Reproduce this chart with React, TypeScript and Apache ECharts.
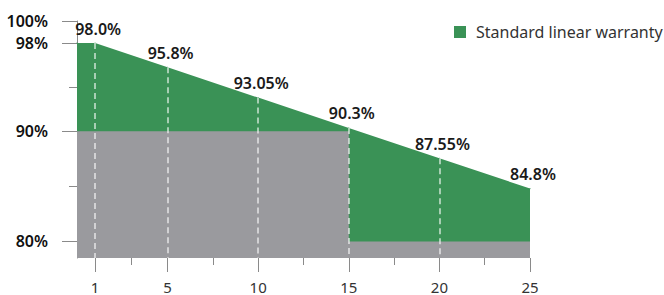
import React, { useEffect, useRef } from 'react';
import * as echarts from 'echarts';

// ---- data ----
const years = [1, 5, 10, 15, 20, 25];
const linearValues = [98, 95.8, 93.05, 90.3, 87.55, 84.8];
const startYear = 0;
const stepYears = [0, 15, 15, 25];
const stepValues = [90, 90, 80, 80];
const yTickValues = [80, 90, 98, 100];
const yMinorTicks = [85, 94];
const xTickValues = [1, 5, 10, 15, 20, 25];
const xMinorTicks = [3, 7.5, 12.5, 17.5, 22.5];
const seriesName = 'Standard linear warranty';

const Y_MIN = 78.5;
const Y_MAX = 100;
const X_MIN = 0;
const X_MAX = 25;

const GREEN = '#3a9256';
const GRAY = '#9a9a9e';
const AXIS = '#8a8a8a';
const FONT = 'Noto Sans';

const fmt = (v: number) => (Number.isInteger(v) ? v.toFixed(1) : String(v)) + '%';

export default function App() {
  const ref = useRef<HTMLDivElement>(null);

  useEffect(() => {
    if (!ref.current) return;
    const chart = echarts.init(ref.current, null, { renderer: 'svg' });

    const linearData: any[] = [
      { value: [startYear, linearValues[0]], label: { show: false } },
      ...years.map((y, i) => ({ value: [y, linearValues[i]] })),
    ];
    const stepData = stepYears.map((y, i) => [y, stepValues[i]]);
    const dashData = years
      .map((y, i) => ({ y, v: linearValues[i] }))
      .filter((d) => d.y < X_MAX)
      .map((d) => [{ coord: [d.y, d.v] }, { coord: [d.y, Y_MIN] }]);

    const baseX = { type: 'value', min: X_MIN, max: X_MAX, splitLine: { show: false } };
    const baseY = { type: 'value', min: Y_MIN, max: Y_MAX, splitLine: { show: false } };

    chart.setOption({
      animation: false,
      grid: { left: 77, right: 134, top: 21, bottom: 37 },
      legend: {
        left: 449,
        top: 19,
        itemWidth: 12,
        itemHeight: 12,
        selectedMode: false,
        data: [{ name: seriesName, icon: 'rect', itemStyle: { color: GREEN } }],
        textStyle: { fontSize: 16, color: '#333', fontFamily: FONT, padding: [0, 0, 0, 5] },
      },
      xAxis: [
        {
          ...baseX,
          position: 'bottom',
          axisLine: { show: false },
          axisTick: { show: true, length: 14, customValues: xTickValues, lineStyle: { color: AXIS } },
          axisLabel: {
            customValues: xTickValues,
            margin: 21,
            fontSize: 15,
            lineHeight: 15,
            color: '#333',
            fontFamily: FONT,
          },
        },
        {
          ...baseX,
          position: 'bottom',
          offset: 0,
          axisLine: { show: false },
          axisTick: { show: true, length: 7, customValues: xMinorTicks, lineStyle: { color: AXIS } },
          axisLabel: { show: false },
        },
      ],
      yAxis: [
        {
          ...baseY,
          position: 'left',
          axisLine: { show: true, lineStyle: { color: AXIS, width: 1 } },
          axisTick: { show: true, length: 15, customValues: yTickValues, lineStyle: { color: AXIS } },
          axisLabel: {
            customValues: yTickValues,
            margin: 29,
            fontSize: 16,
            fontWeight: 600,
            color: '#111',
            fontFamily: FONT,
            formatter: (v: number) => v + '%',
          },
        },
        {
          ...baseY,
          position: 'left',
          offset: 0,
          axisLine: { show: false },
          axisTick: { show: true, length: 8, customValues: yMinorTicks, lineStyle: { color: AXIS } },
          axisLabel: { show: false },
        },
      ],
      series: [
        {
          name: seriesName,
          type: 'line',
          data: linearData,
          symbol: 'circle',
          symbolSize: 1,
          itemStyle: { color: GREEN },
          lineStyle: { width: 0, color: GREEN },
          areaStyle: { color: GREEN, opacity: 1, origin: 'start' },
          z: 2,
          label: {
            show: true,
            position: 'top',
            distance: 6,
            offset: [3, 0],
            fontSize: 16,
            fontWeight: 600,
            color: '#1a1a1a',
            fontFamily: FONT,
            formatter: (p: any) => fmt(p.value[1]),
          },
        },
        {
          name: 'Step warranty',
          type: 'line',
          data: stepData,
          symbol: 'none',
          lineStyle: { width: 0, color: GRAY },
          itemStyle: { color: GRAY },
          areaStyle: { color: GRAY, opacity: 1, origin: 'start' },
          z: 3,
          markLine: {
            silent: true,
            symbol: ['none', 'none'],
            label: { show: false },
            lineStyle: { type: [6, 4], color: 'rgba(255,255,255,0.75)', width: 1.5 },
            data: dashData,
          },
        },
      ],
    });

    return () => chart.dispose();
  }, []);

  return (
    <div
      ref={ref}
      style={{ position: 'fixed', left: 0, top: 0, width: 664, height: 295, background: '#fff' }}
    />
  );
}
